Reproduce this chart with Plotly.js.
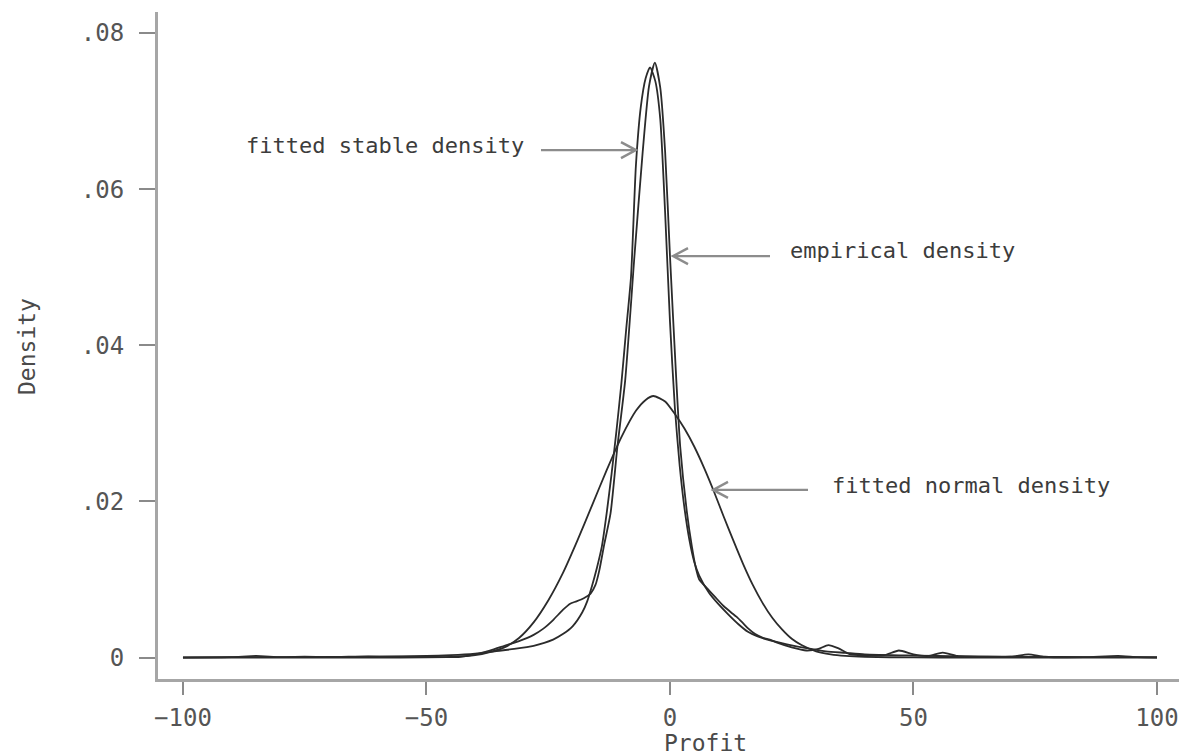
<!DOCTYPE html>
<html>
<head>
<meta charset="utf-8">
<script src="https://cdn.plot.ly/plotly-3.0.1.min.js"></script>
<style>
  html, body { margin: 0; padding: 0; background: #ffffff; overflow: hidden; }
  #chart { width: 1179px; height: 756px; }
</style>
</head>
<body>
<div id="chart"></div>
<script>
// Profit density: empirical kernel estimate vs fitted stable and fitted normal curves
const empiricalX = [-100, -90, -85, -80, -75, -70, -62, -56, -50, -46, -43, -40, -37, -34, -31, -28, -26, -24, -22, -20.5, -19.2, -17.7, -16.3, -15.3, -14.5, -13.5, -12.2, -10.8, -9.2, -7.3, -5.6, -4.3, -3.1, -2.0, -1.0, 0.0, 1.3, 2.1, 3.5, 4.5, 5.3, 6.0, 6.8, 8.0, 9.2, 11, 12.5, 13.7, 15, 16.1, 17.5, 19.2, 20.5, 22, 25, 28, 30.5, 32.5, 34.5, 37, 40, 44, 47, 50, 53, 56, 59, 65, 70, 73.6, 77, 85, 92, 96, 100];
const empiricalY = [0, 0.00005, 0.0002, 0.00005, 0.0001, 0.00005, 0.00015, 0.0001, 0.0001, 0.00005, 0.0001, 0.0004, 0.0009, 0.0015, 0.0021, 0.0029, 0.0037, 0.0048, 0.0061, 0.0069, 0.0072, 0.0076, 0.0082, 0.0093, 0.0112, 0.0145, 0.0185, 0.027, 0.0355, 0.0514, 0.0648, 0.0732, 0.0762, 0.0730, 0.0648, 0.0514, 0.0355, 0.027, 0.0185, 0.0142, 0.0115, 0.0100, 0.0094, 0.0086, 0.0078, 0.0066, 0.0058, 0.0052, 0.0044, 0.0037, 0.0030, 0.0025, 0.0023, 0.0019, 0.0013, 0.0009, 0.0011, 0.0016, 0.0012, 0.0004, 0.0003, 0.0003, 0.0009, 0.0004, 0.0002, 0.00064, 0.0002, 0.0001, 0.0001, 0.0004, 0.0001, 0.00005, 0.0002, 0.00005, 0];

const stableX = [-100, -90, -80, -70, -60, -50, -45, -40, -36, -32, -28, -24, -22, -20, -18, -17, -16, -15, -14, -13, -12, -11, -10, -9, -8, -7, -6, -5, -4.1, -3, -2, -1, 0, 1, 2, 3, 4, 5, 6, 8, 10, 12, 14, 16, 18, 20, 24, 28, 32, 36, 40, 50, 60, 70, 80, 90, 100];
const stableY = [0.00003, 0.00004, 0.00005, 0.00007, 0.0001, 0.0002, 0.0003, 0.0005, 0.0008, 0.0011, 0.0015, 0.0023, 0.0030, 0.0040, 0.0058, 0.0072, 0.0092, 0.0115, 0.0142, 0.0185, 0.0235, 0.0290, 0.0350, 0.0420, 0.0488, 0.0630, 0.0705, 0.0742, 0.0756, 0.0738, 0.0690, 0.0570, 0.0430, 0.0320, 0.0245, 0.0190, 0.0150, 0.0122, 0.0105, 0.0083, 0.0068, 0.0055, 0.0043, 0.0033, 0.0027, 0.0023, 0.0017, 0.0012, 0.0008, 0.0006, 0.0004, 0.00025, 0.00015, 0.0001, 0.00007, 0.00005, 0.00004];

const normalX = [-100, -60, -50, -45, -40, -37, -34, -31, -28, -25, -22, -19, -16, -13, -10, -7, -5, -3.4, -1, 1, 3, 5, 7, 9, 11, 13, 15, 17, 19, 21, 23, 25, 27, 30, 33, 36, 40, 50, 60, 100];
const normalY = [0, 0, 0.00002, 0.00008, 0.0003, 0.0007, 0.0013, 0.0025, 0.0045, 0.0073, 0.0108, 0.0150, 0.0195, 0.0240, 0.0282, 0.0316, 0.0330, 0.0335, 0.0328, 0.0312, 0.0293, 0.0270, 0.0243, 0.0213, 0.0181, 0.0150, 0.0120, 0.0093, 0.0070, 0.0051, 0.0036, 0.0024, 0.0016, 0.0008, 0.0004, 0.0002, 0.00008, 0.00001, 0, 0];

const xTickVals = [-100, -50, 0, 50, 100];
const xTickText = ['\u2212100', '\u221250', '0', '50', '100'];
const yTickVals = [0, 0.02, 0.04, 0.06, 0.08];
const yTickText = ['0', '.02', '.04', '.06', '.08'];

const labelTexts = ['fitted stable density', 'empirical density', 'fitted normal density'];

const MONO = '"DejaVu Sans Mono", "Liberation Mono", monospace';
const curveLine = { color: '#2b2b2b', width: 1.8, shape: 'spline', smoothing: 0.6 };

const traces = [
  { x: normalX, y: normalY, type: 'scatter', mode: 'lines', line: curveLine, name: 'normal', hoverinfo: 'skip' },
  { x: stableX, y: stableY, type: 'scatter', mode: 'lines', line: curveLine, name: 'stable', hoverinfo: 'skip' },
  { x: empiricalX, y: empiricalY, type: 'scatter', mode: 'lines', line: curveLine, name: 'empirical', hoverinfo: 'skip' }
];

// Open-headed pointer arrows: tip anchored on the curve, shaft drawn in pixels
function pointer(tipX, tipY, dir, len) {
  const d = dir;
  const path = 'M ' + (-d * len) + ',0 L 0,0 M ' + (-d * 15) + ',8 L 0,0 L ' + (-d * 15) + ',-8';
  return {
    type: 'path', xref: 'x', yref: 'y',
    xsizemode: 'pixel', ysizemode: 'pixel',
    xanchor: tipX, yanchor: tipY,
    path: path,
    line: { color: '#8c8c8c', width: 2.4 }
  };
}

const shapes = [
  pointer(-6.98, 0.0650, 1, 95),
  pointer(0.62, 0.05142, -1, 97),
  pointer(8.83, 0.02147, -1, 95)
];

const labelFont = { family: MONO, size: 22, color: '#3c3c3c' };
const annotations = [
  { x: -29.6, y: 0.06563, xref: 'x', yref: 'y', text: labelTexts[0], showarrow: false, xanchor: 'right', yanchor: 'middle', font: labelFont },
  { x: 24.2, y: 0.05219, xref: 'x', yref: 'y', text: labelTexts[1], showarrow: false, xanchor: 'left', yanchor: 'middle', font: labelFont },
  { x: 32.8, y: 0.02198, xref: 'x', yref: 'y', text: labelTexts[2], showarrow: false, xanchor: 'left', yanchor: 'middle', font: labelFont },
  { x: 0.5367, y: -0.096, xref: 'paper', yref: 'paper', text: 'Profit', showarrow: false, xanchor: 'center', yanchor: 'middle', font: { family: MONO, size: 23, color: '#4a4a4a' } },
  { x: -0.1283, y: 0.4978, xref: 'paper', yref: 'paper', text: 'Density', textangle: -90, showarrow: false, xanchor: 'center', yanchor: 'middle', font: { family: MONO, size: 23, color: '#4a4a4a' } }
];

const axisCommon = {
  showgrid: false, zeroline: false, showline: true,
  linecolor: '#a6a6a6', linewidth: 3,
  ticks: 'outside', tickwidth: 2, tickcolor: '#8a8a8a',
  tickfont: { family: MONO, size: 24, color: '#555555' },
  fixedrange: true
};

const layout = {
  width: 1179, height: 756,
  margin: { l: 158, r: 0, t: 12, b: 77, pad: 0 },
  paper_bgcolor: '#ffffff', plot_bgcolor: '#ffffff',
  showlegend: false,
  xaxis: Object.assign({}, axisCommon, {
    range: [-105.13, 104.52],
    tickmode: 'array', tickvals: xTickVals, ticktext: xTickText,
    ticklen: 13, ticklabelstandoff: 2
  }),
  yaxis: Object.assign({}, axisCommon, {
    range: [-0.00275, 0.08269],
    tickmode: 'array', tickvals: yTickVals, ticktext: yTickText,
    ticklen: 16, ticklabelstandoff: 10
  }),
  shapes: shapes,
  annotations: annotations
};

Plotly.newPlot('chart', traces, layout, { staticPlot: true, displayModeBar: false });
</script>
</body>
</html>
